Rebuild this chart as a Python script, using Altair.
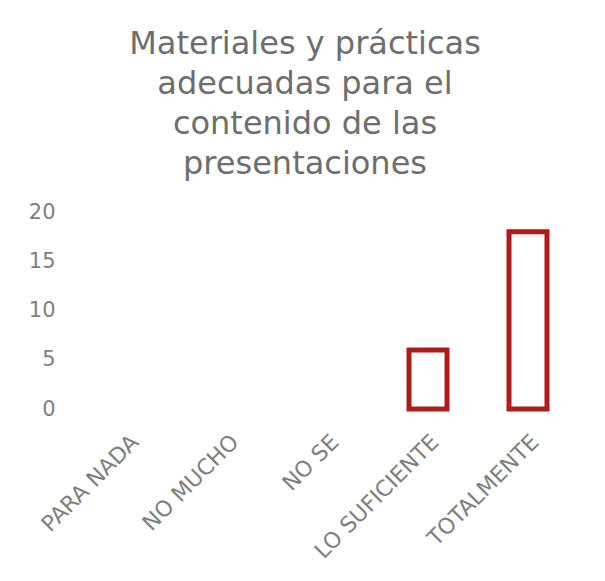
import altair as alt
import pandas as pd

categories = ["PARA NADA", "NO MUCHO", "NO SE", "LO SUFICIENTE", "TOTALMENTE"]
values = [0, 0, 0, 6, 18]
y_ticks = [0, 5, 10, 15, 20]

df = pd.DataFrame({"cat": categories, "val": values})
df_nonzero = df[df["val"] > 0]

FONT = "DejaVu Sans"

chart = alt.Chart(df_nonzero).mark_bar(
    fill="white", stroke="#B01A1A", strokeWidth=5, width=38
).encode(
    x=alt.X("cat:N", sort=categories,
            scale=alt.Scale(domain=categories, paddingInner=0, paddingOuter=0),
            axis=alt.Axis(title=None, labelAngle=-45, labelAlign="right",
                          labelBaseline="top", domain=False, ticks=False,
                          labelPadding=22, labelFontSize=22, labelColor="#7f7f7f",
                          labelFont=FONT, labelOffset=0)),
    y=alt.Y("val:Q", scale=alt.Scale(domain=[0, 20], nice=False),
            axis=alt.Axis(title=None, values=y_ticks, grid=False, domain=False,
                          ticks=False, labelPadding=23, labelFontSize=21,
                          labelColor="#7f7f7f", labelFont=FONT)),
).properties(
    width=500, height=197,
    title=alt.TitleParams(
        text=["Materiales y prácticas", "adecuadas para el",
              "contenido de las", "presentaciones"],
        fontSize=32, font=FONT, fontWeight="normal", color="#6e6e6e",
        lineHeight=40, anchor="middle", dx=-23, offset=20,
    ),
    autosize="none",
    padding={"left": 70, "top": 204, "right": 19, "bottom": 164},
).configure_view(stroke=None)

chart.save("out.html", embed_options={"renderer": "svg", "actions": False})
